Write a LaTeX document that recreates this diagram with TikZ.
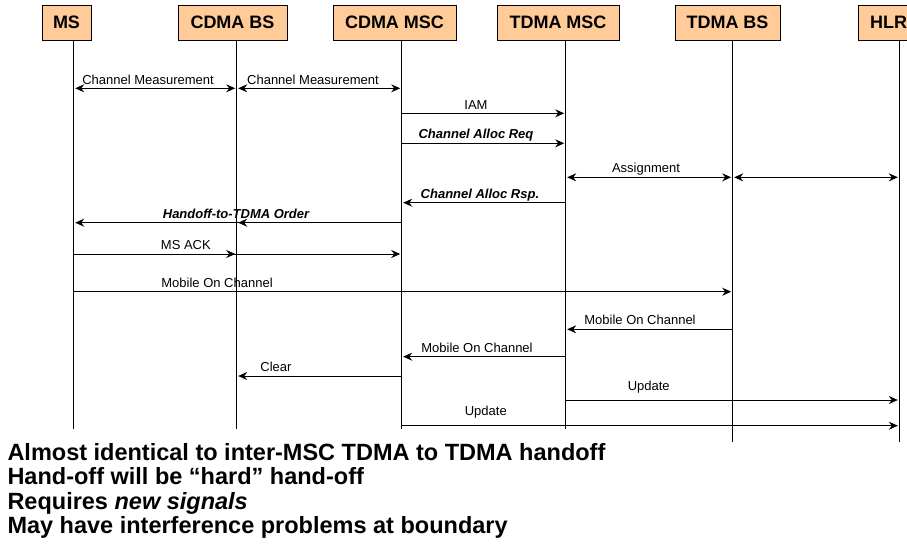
\documentclass[tikz,border=0pt]{standalone}
\usepackage{fontspec}
\setmainfont{Liberation Sans}
\usetikzlibrary{arrows.meta}
\definecolor{boxpeach}{RGB}{255, 204, 153}

\tikzset{
  hdr/.style={draw, line width=1pt, fill=boxpeach, minimum height=35pt, inner xsep=11pt,
    font=\fontsize{18}{20}\selectfont\bfseries},
  life/.style={line width=1pt},
  msg/.style={line width=1pt, shorten >=1.5pt, -{Stealth[length=9pt, width=8pt, inset=3pt]}},
  msgboth/.style={msg, shorten <=1.5pt, {Stealth[length=9pt, width=8pt, inset=3pt]}-{Stealth[length=9pt, width=8pt, inset=3pt]}},
  lbl/.style={anchor=base, inner sep=0pt, yshift=4.5pt, font=\fontsize{13}{15}\selectfont},
  lblem/.style={lbl, font=\fontsize{13}{15}\selectfont\bfseries\itshape},
  note/.style={anchor=base west, inner sep=0pt, font=\fontsize{23.5}{24.5}\selectfont\bfseries}
}

\begin{document}
\begin{tikzpicture}[x=1pt, y=-1pt]
		\clip (0,0) rectangle (907,550);
		
		% Kopfzeile
		\node[hdr, minimum width=49pt] (msbox) at (66.5, 22.5) {MS};
		\node[hdr, minimum width=109pt] (cbsbox) at (232.5, 22.5) {CDMA BS};
		\node[hdr, minimum width=123pt] (cmscbox) at (394.5, 22.5) {CDMA MSC};
		\node[hdr, minimum width=122pt] (tmscbox) at (558, 22.5) {TDMA MSC};
		\node[hdr, minimum width=105pt] (tbsbox) at (727.5, 22.5) {TDMA BS};
		\node[hdr, minimum width=60pt] (hlrbox) at (888.5, 22.5) {HLR};
		
		% Lebenslinien
		\coordinate (ms) at (73.7, 40);
		\coordinate (cbs) at (236.7, 40);
		\coordinate (cmsc) at (401.7, 40);
		\coordinate (tmsc) at (565.7, 40);
		\coordinate (tbs) at (732.7, 40);
		\coordinate (hlr) at (899.3, 40);
		\draw[life] (ms) -- (ms |- 0,429);
		\draw[life] (cbs) -- (cbs |- 0,429);
		\draw[life] (cmsc) -- (cmsc |- 0,429);
		\draw[life] (tmsc) -- (tmsc |- 0,429);
		\draw[life] (tbs) -- (tbs |- 0,441.7);
		\draw[life] (hlr) -- (hlr |- 0,441.7);
		
		% --- Messung und Kanalzuweisung ---
		\draw[msgboth] (ms |- 0,88.3) -- node[lbl, yshift=-1pt, pos=0.456] {Channel Measurement} (cbs |- 0,88.3);
		\draw[msgboth] (cbs |- 0,88.3) -- node[lbl, yshift=-1pt, pos=0.462] {Channel Measurement} (cmsc |- 0,88.3);
		\draw[msg] (cmsc |- 0,113.3) -- node[lbl, yshift=-1pt, pos=0.453] {IAM} (tmsc |- 0,113.3);
		\draw[msg] (cmsc |- 0,143.3) -- node[lblem, pos=0.453] {Channel Alloc Req} (tmsc |- 0,143.3);
		\draw[msgboth] (tmsc |- 0,177.3) -- node[lbl, pos=0.481] {Assignment} (tbs |- 0,177.3);
		\draw[msgboth] (tbs |- 0,177.3) -- (hlr |- 0,177.3);
		\draw[msg] (tmsc |- 0,202.7) -- node[lblem, pos=0.523] {Channel Alloc Rsp.} (cmsc |- 0,202.7);
		
		% --- Handoff ---
		\draw[msg] (cmsc |- 0,222.7) -- node[lblem, pos=0.505] {Handoff-to-TDMA Order} (ms |- 0,222.7);
		\draw[msg] (cmsc |- 0,222.7) -- (cbs |- 0,222.7);
		\draw[msg] (ms |- 0,254) -- node[lbl, pos=0.342] {MS ACK} (cmsc |- 0,254);
		\draw[msg] (ms |- 0,254) -- (cbs |- 0,254);
		\draw[msg] (ms |- 0,291.7) -- node[lbl, pos=0.2175] {Mobile On Channel} (tbs |- 0,291.7);
		\draw[msg] (tbs |- 0,329.3) -- node[lbl, pos=0.555] {Mobile On Channel} (tmsc |- 0,329.3);
		\draw[msg] (tmsc |- 0,356.7) -- node[lbl, pos=0.541] {Mobile On Channel} (cmsc |- 0,356.7);
		\draw[msg] (cmsc |- 0,376) -- node[lbl, pos=0.762] {Clear} (cbs |- 0,376);
		\draw[msg] (tmsc |- 0,400) -- node[lbl, yshift=5pt, pos=0.249] {Update} (hlr |- 0,400);
		\draw[msg] (cmsc |- 0,425.7) -- node[lbl, yshift=6pt, pos=0.169] {Update} (hlr |- 0,425.7);
		
		% Anmerkungen unten
		\node[note] (note1) at (7.3, 460) {Almost identical to inter-MSC TDMA to TDMA handoff};
		\node[note] (note2) at (7.3, 484.5) {Hand-off will be “hard” hand-off};
		\node[note] (note3) at (7.3, 509) {Requires \textit{new signals}};
		\node[note] (note4) at (7.3, 533.5) {May have interference problems at boundary};
		
	\end{tikzpicture}
\end{document}
